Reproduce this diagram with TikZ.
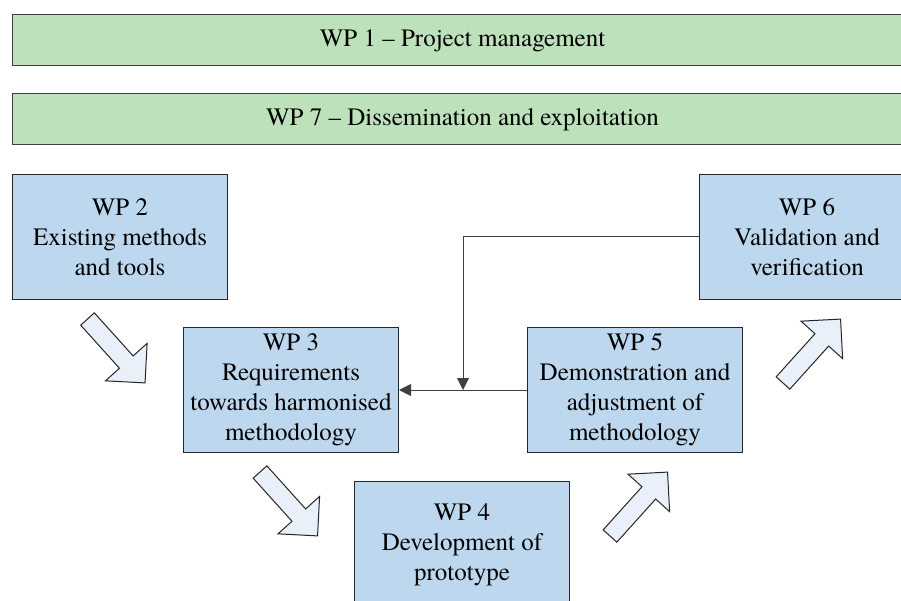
\documentclass[tikz,border=0pt]{standalone}
\usepackage{fontspec}
\setmainfont{texgyretermes-regular.otf}
\newfontfamily\tnr{texgyretermes-regular.otf}
\usetikzlibrary{arrows.meta,calc}
\definecolor{bandgreen}{RGB}{189,225,187}
\definecolor{wpblue}{RGB}{189,215,238}
\definecolor{arrowfill}{RGB}{233,240,250}
\definecolor{edgegray}{RGB}{64,64,64}
\tikzset{
  band/.style={draw=edgegray,fill=bandgreen,line width=1pt},
  wpbox/.style={draw=black!85,fill=wpblue,line width=1pt,minimum width=215pt,minimum height=125pt,anchor=north west,align=center,inner sep=0pt,font=\tnr\fontsize{25}{30}\selectfont},
  bandtext/.style={font=\tnr\fontsize{25}{30}\selectfont,inner sep=0pt},
  conn/.style={draw=edgegray,line width=1pt},
  tipA/.style={-{Triangle[length=12pt,width=12pt]}},
  barrow/.style={draw=black!85,fill=arrowfill,line width=1pt,line join=miter},
  blockarrow/.pic={\path[barrow] (0,9.2) -- (58,9.2) -- (58,28) -- (86,0) -- (58,-28) -- (58,-9.2) -- (0,-9.2) -- cycle;}
}
\begin{document}
\begin{tikzpicture}[x=1pt,y=-1pt]
\useasboundingbox (0,0) rectangle (901,601);
\clip (0,0) rectangle (901,601);
% bands
\path[band] (12,15) rectangle (920,66);
\node[bandtext] (wp1) at (462.5,40.5) {WP 1 – Project management};
\path[band] (12,94) rectangle (920,145);
\node[bandtext] (wp7) at (462.5,119.5) {WP 7 – Dissemination and exploitation};
% work package boxes
\node[wpbox] (wp2) at (12,174) {WP 2\\Existing methods\\and tools};
\node[wpbox] (wp3) at (183,327) {WP 3\\Requirements\\towards harmonised\\methodology};
\node[wpbox,minimum height=127pt] (wp4) at (354,481) {WP 4\\Development of\\prototype};
\node[wpbox] (wp5) at (527,327) {WP 5\\Demonstration and\\adjustment of\\methodology};
\node[wpbox] (wp6) at (699,174) {WP 6\\Validation and\\verification};
% connectors
\coordinate (j) at ($(wp3.east)!0.5!(wp5.west)$);
\draw[conn,tipA] (wp5.west) -- (wp3.east);
\draw[conn,tipA] (wp6.west) -| (j);
% block arrows
\path (87.5,319) pic[rotate=-48] {blockarrow};
\path (260,472) pic[rotate=-48] {blockarrow};
\path (610,536) pic[rotate=48] {blockarrow};
\path (783,383) pic[rotate=48] {blockarrow};
\end{tikzpicture}
\end{document}
